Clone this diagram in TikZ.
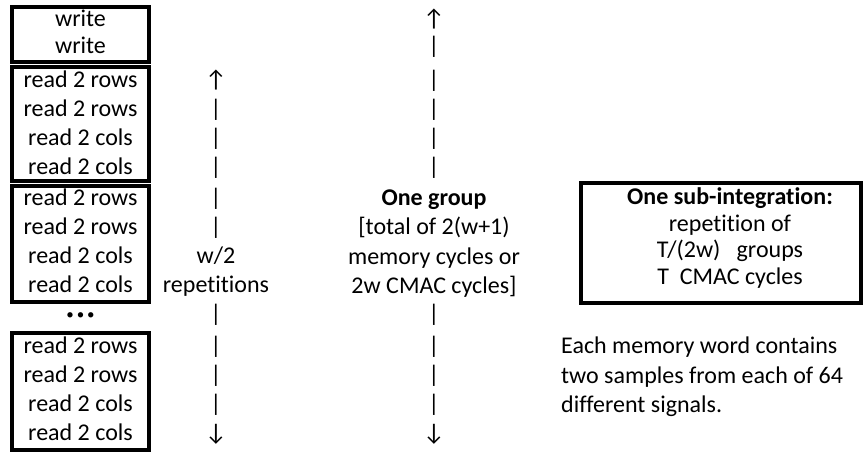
\documentclass[tikz,border=0pt]{standalone}
\usepackage{fontspec}
\setmainfont{Carlito}[Ligatures={NoCommon}]
\begin{document}
\begin{tikzpicture}[x=1pt,y=-1pt,
  txt/.style={anchor=base, inner sep=0pt, font=\fontsize{24}{29}\selectfont},
  bold/.style={txt, font=\fontsize{24}{29}\selectfont\bfseries},
  membox/.style={draw, line width=4pt, inner sep=0pt, minimum width=137pt},
  subbox/.style={draw, line width=3.5pt, inner sep=0pt, minimum width=280pt, minimum height=120pt}]
\useasboundingbox (0,0) rectangle (864,452);

% memory access boxes
\node[membox, minimum height=55pt]  (wbox)  at (80.5,34.5) {};
\node[membox, minimum height=114pt] (rbox1) at (80.5,124) {};
\node[membox, minimum height=116pt] (rbox2) at (80.5,244) {};
\node[membox, minimum height=117pt] (rbox3) at (80.5,391.5) {};

% memory cycles
\node[txt] (w1) at (80.5,27) {write};
\node[txt] (w2) at (80.5,54) {write};
\foreach \y/\t [count=\i] in {87/read 2 rows,116/read 2 rows,145/read 2 cols,174/read 2 cols}
  \node[txt] (a\i) at (80.5,\y) {\t};
\foreach \y/\t [count=\i] in {205/read 2 rows,234/read 2 rows,263/read 2 cols,292/read 2 cols}
  \node[txt] (b\i) at (80.5,\y) {\t};
\node[txt, font=\fontsize{15}{15}\selectfont] (dots) at (80.5,319) {•\kern3pt•\kern3pt•};
\foreach \y/\t [count=\i] in {353/read 2 rows,382/read 2 rows,411/read 2 cols,440/read 2 cols}
  \node[txt] (c\i) at (80.5,\y) {\t};

% repetition span
\foreach \y/\t [count=\i] in {87/↑,116/|,145/|,174/|,205/|,234/|,263/{w/2},292/repetitions,321/|,353/|,382/|,411/|,440/↓}
  \node[txt] (rep\i) at (216,\y) {\t};

% group span
\foreach \y/\t [count=\i] in {27/↑,54/|,87/|,116/|,145/|,174/|}
  \node[txt] (grpa\i) at (434,\y) {\t};
\node[bold] (grp) at (434,205) {One group};
\node[txt] (grp1) at (434,234) {[total of 2(w+1)};
\node[txt] (grp2) at (434,264) {memory cycles or};
\node[txt] (grp3) at (434,293) {2w CMAC cycles]};
\foreach \y/\t [count=\i] in {321/|,353/|,382/|,411/|,440/↓}
  \node[txt] (grpb\i) at (434,\y) {\t};

% sub-integration summary
\node[subbox] (sub) at (721,243) {};
\node[bold] (sub0) at (730,204.5) {One sub-integration:};
\node[txt] (sub1) at (730,231) {repetition of};
\node[txt] (sub2) at (730,257.5) {T/(2w)\ \ \ groups};
\node[txt] (sub3) at (730,284) {T\ \ CMAC cycles};

% note on memory words
\node[txt, anchor=base west] (note1) at (561,353) {Each memory word contains};
\node[txt, anchor=base west] (note2) at (561,383) {two samples from each of 64};
\node[txt, anchor=base west] (note3) at (561,412) {different signals.};
\end{tikzpicture}
\end{document}
